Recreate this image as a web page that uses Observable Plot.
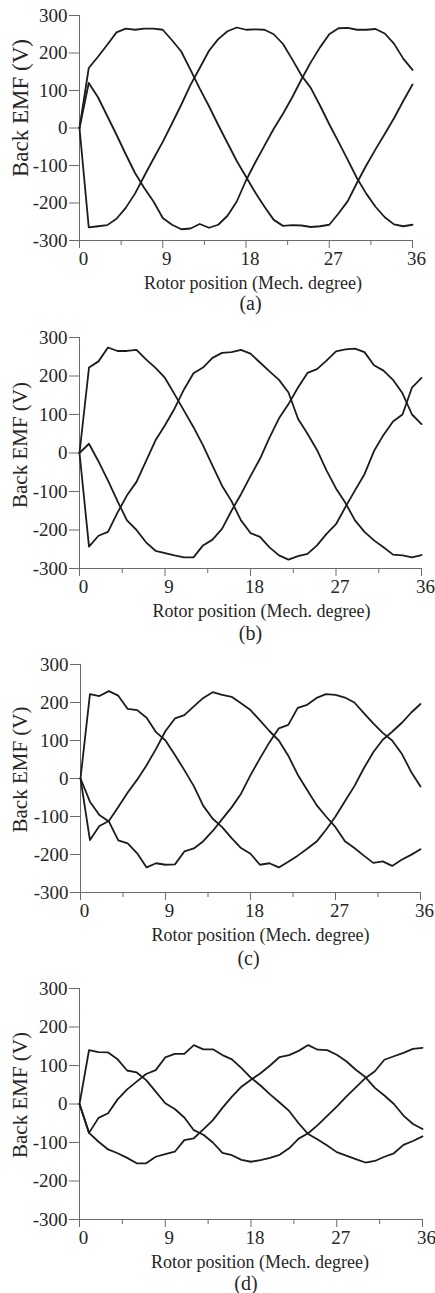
<!DOCTYPE html>
<html><head><meta charset="utf-8">
<script src="https://cdn.jsdelivr.net/npm/d3@7"></script>
<script src="https://cdn.jsdelivr.net/npm/@observablehq/plot@0.6"></script>
<style>
body{margin:0;background:#fff;}
#root{position:relative;width:435px;height:1293px;overflow:hidden;background:#fff;}
#root svg{overflow:visible;font-family:"Liberation Serif","Times New Roman",serif !important;}
#root svg text{font-family:"Liberation Serif","Times New Roman",serif !important;}
</style></head><body><div id="root"></div>
<script>
const degrees = [0,1,2,3,4,5,6,7,8,9,10,11,12,13,14,15,16,17,18,19,20,21,22,23,24,25,26,27,28,29,30,31,32,33,34,35,36];
const xTicksMajor = [0,9,18,27,36];
const xTicksMinor = [4.5,13.5,22.5,31.5];
const yTicks = [-300,-200,-100,0,100,200,300];
const xLabel = "Rotor position (Mech. degree)";
const yLabel = "Back EMF (V)";
const captions = ["(a)","(b)","(c)","(d)"];

// Panel (a)
const a1 = [0,160,190,222,255,265,262,265,265,262,234,204,155,105,58,8,-40,-88,-130,-172,-210,-245,-261,-259,-260,-264,-262,-258,-228,-195,-146,-100,-57,-16,26,72,116];
const a2 = [0,-265,-262,-259,-242,-213,-175,-128,-82,-37,12,62,115,160,206,237,258,268,262,263,262,250,224,183,140,107,60,10,-37,-85,-134,-175,-210,-238,-257,-262,-258];
const a3 = [0,120,82,32,-18,-70,-120,-160,-196,-240,-258,-270,-268,-256,-266,-258,-234,-196,-140,-92,-47,-2,38,82,130,175,215,250,266,267,262,262,264,252,225,185,155];
// Panel (b)
const b1 = [0,222,238,274,265,265,268,243,221,195,153,110,67,20,-33,-85,-125,-175,-208,-218,-245,-266,-277,-268,-262,-240,-210,-185,-140,-97,-55,5,47,82,100,170,195];
const b2 = [0,-243,-215,-205,-155,-110,-75,-21,33,72,115,165,207,222,247,260,262,268,258,235,212,190,157,89,50,8,-45,-92,-130,-175,-205,-227,-245,-264,-266,-271,-265];
const b3 = [0,24,-22,-72,-125,-175,-200,-232,-254,-260,-266,-271,-271,-240,-225,-197,-150,-107,-60,-15,40,90,127,170,208,218,240,264,269,271,262,228,214,190,155,100,75];
// Panel (c)
const c1 = [0,222,217,230,218,183,180,160,122,100,62,22,-20,-72,-106,-128,-157,-183,-198,-227,-223,-234,-219,-203,-185,-166,-135,-100,-60,-20,27,69,102,123,146,173,196];
const c2 = [0,-162,-125,-112,-75,-37,-3,35,78,125,158,167,190,212,227,220,215,198,180,153,125,100,60,10,-30,-70,-100,-128,-165,-183,-203,-222,-218,-230,-214,-201,-186];
const c3 = [0,-61,-96,-113,-163,-171,-197,-234,-223,-227,-226,-192,-184,-165,-138,-107,-76,-40,9,53,95,132,141,186,194,212,222,220,213,200,172,145,120,100,66,18,-21];
// Panel (d)
const d1 = [0,140,135,134,116,87,82,62,32,2,-13,-35,-68,-80,-100,-127,-133,-145,-150,-146,-140,-132,-115,-90,-76,-55,-31,-7,19,43,67,85,115,124,133,143,146];
const d2 = [0,-75,-36,-24,12,38,58,78,88,121,130,130,153,142,142,127,116,93,68,48,25,4,-18,-50,-78,-92,-108,-125,-134,-143,-152,-148,-137,-128,-106,-96,-84];
const d3 = [0,-75,-98,-118,-128,-140,-154,-154,-137,-130,-124,-94,-89,-66,-42,-10,19,45,63,80,100,122,127,138,153,141,140,128,111,89,70,42,22,0,-30,-52,-65];

const panels = [[a1,a2,a3],[b1,b2,b3],[c1,c2,c3],[d1,d2,d3]];

const layout = [
  {top:15,  bottom:240,  left:79, right:412, mb:75, yldy:-20, ylfs:23, xldx:7,  capdx:4.5, capdy:63},
  {top:337, bottom:568,  left:79, right:421, mb:75, yldy:-8,  ylfs:21, xldx:11, capdx:0,   capdy:65},
  {top:664, bottom:892,  left:80, right:420, mb:75, yldy:-9,  ylfs:21, xldx:10, capdx:-2,  capdy:66},
  {top:988, bottom:1219, left:79, right:422, mb:74, yldy:-9,  ylfs:21, xldx:9,  capdx:-5,  capdy:64}
];

const fontStack = "'Liberation Serif', 'Times New Roman', serif";
const axisGray = "#6a6a6a";
const textColor = "#262626";
const lineColor = "#1c1c1c";
const root = document.getElementById("root");

panels.forEach((series, p) => {
  const lay = layout[p];
  const rows = [];
  series.forEach((vals, k) => vals.forEach((v, i) => rows.push({deg: degrees[i], v, phase: k})));
  const mt = 12;
  const svg = Plot.plot({
    width: 435,
    height: mt + (lay.bottom - lay.top) + lay.mb,
    marginTop: mt, marginBottom: lay.mb, marginLeft: lay.left, marginRight: 435 - lay.right,
    x: {domain: [0, 36]},
    y: {domain: [-300, 300]},
    style: {fontFamily: fontStack, background: "white", color: textColor, overflow: "visible"},
    marks: [
      Plot.ruleX([0], {stroke: axisGray, strokeWidth: 1}),
      Plot.ruleY([-300], {stroke: axisGray, strokeWidth: 1}),
      Plot.axisY({ticks: yTicks, tickSize: 10, tickPadding: 2, tickFormat: d => String(d), fontSize: 19, label: null, stroke: axisGray, fill: textColor, fontFamily: fontStack}),
      Plot.axisX({ticks: xTicksMinor, tickSize: 5, tickFormat: () => "", label: null, stroke: axisGray}),
      Plot.axisX({ticks: xTicksMajor, tickSize: 8, tickFormat: () => "", label: null, stroke: axisGray}),
      Plot.axisX({ticks: xTicksMajor, tickSize: 0, tickPadding: 11, dx: 4, tickFormat: d => String(d), fontSize: 19, label: null, fill: textColor, fontFamily: fontStack}),
      Plot.line(rows, {x: "deg", y: "v", z: "phase", stroke: lineColor, strokeWidth: 1.8, strokeLinejoin: "round"}),
      Plot.text([xLabel], {text: d => d, frameAnchor: "bottom", textAnchor: "middle", lineAnchor: "middle", dx: lay.xldx, dy: 43, fontSize: 18, fill: textColor, fontFamily: fontStack}),
      Plot.text([captions[p]], {text: d => d, frameAnchor: "bottom", textAnchor: "middle", lineAnchor: "middle", dx: lay.capdx, dy: lay.capdy, fontSize: 20, fill: textColor, fontFamily: fontStack}),
      Plot.text([yLabel], {text: d => d, frameAnchor: "left", textAnchor: "middle", lineAnchor: "middle", dx: 20 - lay.left, dy: lay.yldy, rotate: -90, fontSize: lay.ylfs, fill: textColor, fontFamily: fontStack})
    ]
  });
  svg.style.position = "absolute";
  svg.style.left = "0px";
  svg.style.top = (lay.top - mt) + "px";
  root.appendChild(svg);
});
</script></body></html>
